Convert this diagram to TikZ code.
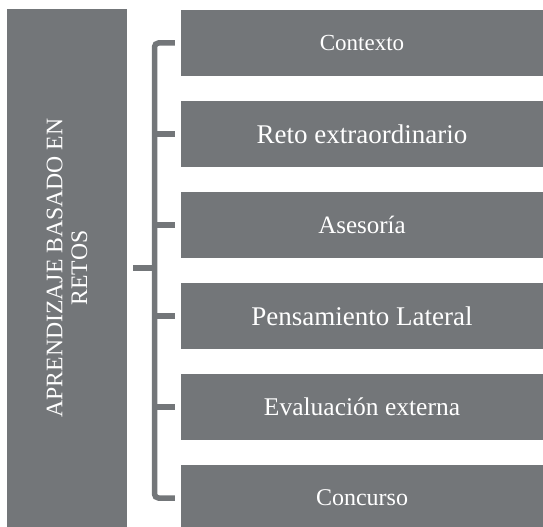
\documentclass[tikz,border=0pt]{standalone}
\usepackage{fontspec}
\setmainfont{Liberation Serif}
\usetikzlibrary{positioning}
\definecolor{boxgray}{RGB}{115,118,121}
\begin{document}
\begin{tikzpicture}[x=1bp,y=-1bp,node distance=24.6bp,
	item/.style={fill=boxgray,text=white,minimum width=362bp,minimum height=66bp,inner sep=0pt},
	bracket/.style={draw=boxgray,line width=5.5bp,rounded corners=4bp}]
		\def\fs#1{\fontsize{#1bp}{1.05\dimexpr#1bp\relax}\selectfont}
		\useasboundingbox (0,0) rectangle (543,527);
		\node[fill=boxgray,minimum width=120bp,minimum height=518bp,inner sep=0pt] (main) at (67,268) {};
		\node[rotate=90,text=white,align=center,font=\fs{23.7}] (title) at (main.center) {APRENDIZAJE BASADO EN\\RETOS};
		\node[item,font=\fs{23}] (k1) at (362,43) {Contexto};
		\node[item,below=of k1,font=\fs{27}] (k2) {Reto extraordinario};
		\node[item,below=of k2,font=\fs{25}] (k3) {Asesoría};
		\node[item,below=of k3,font=\fs{27}] (k4) {Pensamiento Lateral};
		\node[item,below=of k4,font=\fs{25.5}] (k5) {Evaluación externa};
		\node[item,below=of k5,font=\fs{24}] (k6) {Concurso};
		\coordinate (spine) at (154.5,0);
		\draw[bracket] ([xshift=-6bp]k1.west) -| (spine |- k6.west) -- ([xshift=-6bp]k6.west);
		\foreach \i in {2,...,5}
			\draw[bracket] (spine |- k\i.west) -- ([xshift=-6bp]k\i.west);
		\draw[bracket] ([xshift=6bp]main.east) -- (spine |- main.east);
	\end{tikzpicture}
\end{document}
